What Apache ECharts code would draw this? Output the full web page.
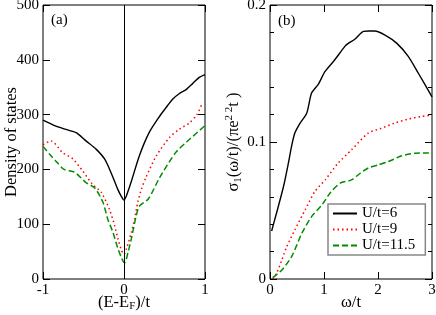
<!DOCTYPE html>
<html>
<head>
<meta charset="utf-8">
<script src="https://cdn.jsdelivr.net/npm/echarts@6/dist/echarts.min.js"></script>
<style>html,body{margin:0;padding:0;background:#fff}#c{width:436px;height:315px}</style>
</head>
<body>
<div id="c"></div>
<script>
// Panel (a): density of states vs (E-E_F)/t
var dosBlackE = [-1,-0.84,-0.72,-0.59,-0.47,-0.345,-0.24,-0.16,-0.078,-0.03,0,0.03,0.086,0.19,0.31,0.44,0.52,0.6,0.68,0.77,0.85,0.93,1];
var dosBlack  = [290,279,273,267,252,237,219,194,164,150,144,152,176,225,267,297,313,328,338,346,357,368,373];
var dosRedE = [-1,-0.9,-0.76,-0.63,-0.51,-0.39,-0.28,-0.18,-0.115,-0.074,-0.03,0,0.03,0.09,0.13,0.17,0.215,0.27,0.4,0.56,0.68,0.81,0.9,0.97];
var dosRed  = [245,252,231,219,197,173,158,127,97,73,52,45,55,85,109,140,164,185,225,258,273,285,300,322];
var dosGreenE = [-1,-0.92,-0.84,-0.74,-0.61,-0.47,-0.36,-0.26,-0.2,-0.136,-0.074,-0.01,0.01,0.05,0.09,0.15,0.19,0.3,0.44,0.64,0.81,0.97,1];
var dosGreen  = [242,228,215,200,195,176,166,140,109,85,55,32,30,49,73,115,133,146,185,231,255,276,280];
// Panel (b): sigma_1 vs omega/t
var sigBlackW = [0.03,0.12,0.25,0.34,0.40,0.46,0.56,0.68,0.77,0.89,1.02,1.2,1.39,1.45,1.57,1.73,1.83,1.94,2.13,2.35,2.56,2.75,3];
var sigBlack  = [0.035,0.048,0.0675,0.0845,0.097,0.1065,0.114,0.121,0.1357,0.1418,0.1515,0.160,0.170,0.172,0.175,0.1807,0.181,0.181,0.178,0.172,0.1625,0.150,0.133];
var sigRedW = [0.05,0.12,0.22,0.31,0.46,0.65,0.83,1.02,1.26,1.51,1.82,2.06,2.31,2.56,2.8,3];
var sigRed  = [0,0.004,0.0139,0.0236,0.0358,0.0504,0.0638,0.0723,0.0845,0.0943,0.1065,0.110,0.1138,0.1167,0.1186,0.1195];
var sigGreenW = [0.05,0.22,0.4,0.59,0.77,0.96,1.11,1.3,1.51,1.67,1.82,2.0,2.19,2.44,2.69,2.94,3];
var sigGreen  = [0.001,0.0066,0.0163,0.0334,0.0455,0.054,0.0626,0.070,0.0723,0.0772,0.081,0.0833,0.0857,0.0899,0.0918,0.092,0.091];
var seriesNames = ['U/t=6','U/t=9','U/t=11.5'];

function zip(xs, ys){ return xs.map(function(x,i){ return [x, ys[i]]; }); }

var FONT = '"Liberation Serif", "Times New Roman", serif';
var lab = {color:'#000', fontFamily:FONT, fontSize:15};
var nameLab = {color:'#000', fontFamily:FONT, fontSize:16.5};
var chart = echarts.init(document.getElementById('c'), null, {renderer:'canvas'});

function xAx(grid, min, max, interval, pos, showLabel, name, nameRich){
  return {type:'value', gridIndex:grid, position:pos, min:min, max:max, interval:interval,
    axisLine:{show:false, onZero:false}, splitLine:{show:false},
    axisTick:{show:true, inside:true, length:7, lineStyle:{color:'#000'}},
    axisLabel:Object.assign({show:showLabel, margin:4}, lab),
    name:name||'', nameLocation:'middle', nameGap:15, nameMoveOverlap:false,
    nameTextStyle:Object.assign({rich:nameRich||{}}, nameLab)};
}
function yAx(grid, min, max, interval, pos, showLabel, minor, fmt, name, gap, nameRich){
  return {type:'value', gridIndex:grid, position:pos, min:min, max:max, interval:interval,
    axisLine:{show:false, onZero:false}, splitLine:{show:false},
    axisTick:{show:true, inside:true, length:7, lineStyle:{color:'#000'}},
    minorTick:{show:minor, splitNumber:5, length:4, lineStyle:{color:'#000'}},
    axisLabel:Object.assign({show:showLabel, margin:4, formatter:fmt}, lab),
    name:name||'', nameLocation:'middle', nameGap:gap||30, nameRotate:90, nameMoveOverlap:false,
    nameTextStyle:Object.assign({rich:nameRich||{}}, nameLab)};
}
var subRich = {
  n:{fontFamily:FONT, fontSize:16.5, color:'#000'},
  sub:{fontFamily:FONT, fontSize:11, color:'#000', verticalAlign:'bottom', padding:[7,0,0,0]},
  sup:{fontFamily:FONT, fontSize:11, color:'#000', verticalAlign:'top', padding:[0,0,9,0]}
};

var option = {
  animation:false,
  backgroundColor:'#fff',
  grid:[
    {left:43, right:231, top:5, bottom:36, show:true, borderColor:'#000', borderWidth:1, backgroundColor:'transparent', containLabel:false, outerBoundsMode:'none'},
    {left:270, right:4, top:5, bottom:36, show:true, borderColor:'#000', borderWidth:1, backgroundColor:'transparent', containLabel:false, outerBoundsMode:'none'}
  ],
  xAxis:[
    xAx(0,-1,1,1,'bottom',true,'{n|(E-E}{sub|F}{n|)/t}',subRich),
    xAx(0,-1,1,1,'top',false),
    xAx(1,0,3,1,'bottom',true,'ω/t'),
    xAx(1,0,3,1,'top',false)
  ],
  yAxis:[
    yAx(0,0,500,100,'left',true,false,null,'Density of states',23),
    yAx(0,0,500,100,'right',false,false),
    yAx(1,0,0.2,0.1,'left',true,true,function(v){return v===0?'0':String(+v.toFixed(1));},
        '{n|σ}{sub|1}{n|(ω/t)/(πe}{sup|2 2}{n|t )}',26,subRich),
    yAx(1,0,0.2,0.1,'right',false,true)
  ],
  legend:{
    data:seriesNames, orient:'vertical', left:328, top:204,
    itemWidth:24, itemHeight:14, itemGap:1,
    padding:[2,10,2,4],
    borderColor:'#888', borderWidth:1.5, backgroundColor:'#fff',
    itemStyle:{opacity:0},
    textStyle:{color:'#000', fontFamily:FONT, fontSize:15}
  },
  graphic:[
    {type:'text', left:51, top:13, style:{text:'(a)', fill:'#000', font:'15px "Liberation Serif", serif'}},
    {type:'text', left:278, top:14, style:{text:'(b)', fill:'#000', font:'15px "Liberation Serif", serif'}}
  ],
  series:[
    {name:seriesNames[0], type:'line', xAxisIndex:0, yAxisIndex:0, data:zip(dosBlackE,dosBlack), showSymbol:false, symbol:'none', smooth:0.25,
     lineStyle:{color:'#000', width:1.4}, itemStyle:{color:'#000'},
     markLine:{silent:true, symbol:'none', label:{show:false}, lineStyle:{color:'#000', width:1, type:'solid'}, data:[{xAxis:0}]}},
    {name:seriesNames[1], type:'line', xAxisIndex:0, yAxisIndex:0, data:zip(dosRedE,dosRed), showSymbol:false, symbol:'none', smooth:0.25,
     lineStyle:{color:'#ff0000', width:1.5, type:[1.5,3]}, itemStyle:{color:'#ff0000'}},
    {name:seriesNames[2], type:'line', xAxisIndex:0, yAxisIndex:0, data:zip(dosGreenE,dosGreen), showSymbol:false, symbol:'none', smooth:0.25,
     lineStyle:{color:'#008c00', width:1.5, type:[6,3]}, itemStyle:{color:'#008c00'}},
    {name:seriesNames[0], type:'line', xAxisIndex:2, yAxisIndex:2, data:zip(sigBlackW,sigBlack), showSymbol:false, symbol:'none', smooth:0.25,
     lineStyle:{color:'#000', width:1.4}, itemStyle:{color:'#000'}},
    {name:seriesNames[1], type:'line', xAxisIndex:2, yAxisIndex:2, data:zip(sigRedW,sigRed), showSymbol:false, symbol:'none', smooth:0.25,
     lineStyle:{color:'#ff0000', width:1.5, type:[1.5,3]}, itemStyle:{color:'#ff0000'}},
    {name:seriesNames[2], type:'line', xAxisIndex:2, yAxisIndex:2, data:zip(sigGreenW,sigGreen), showSymbol:false, symbol:'none', smooth:0.25,
     lineStyle:{color:'#008c00', width:1.5, type:[6,3]}, itemStyle:{color:'#008c00'}}
  ]
};
chart.setOption(option);
</script>
</body>
</html>
